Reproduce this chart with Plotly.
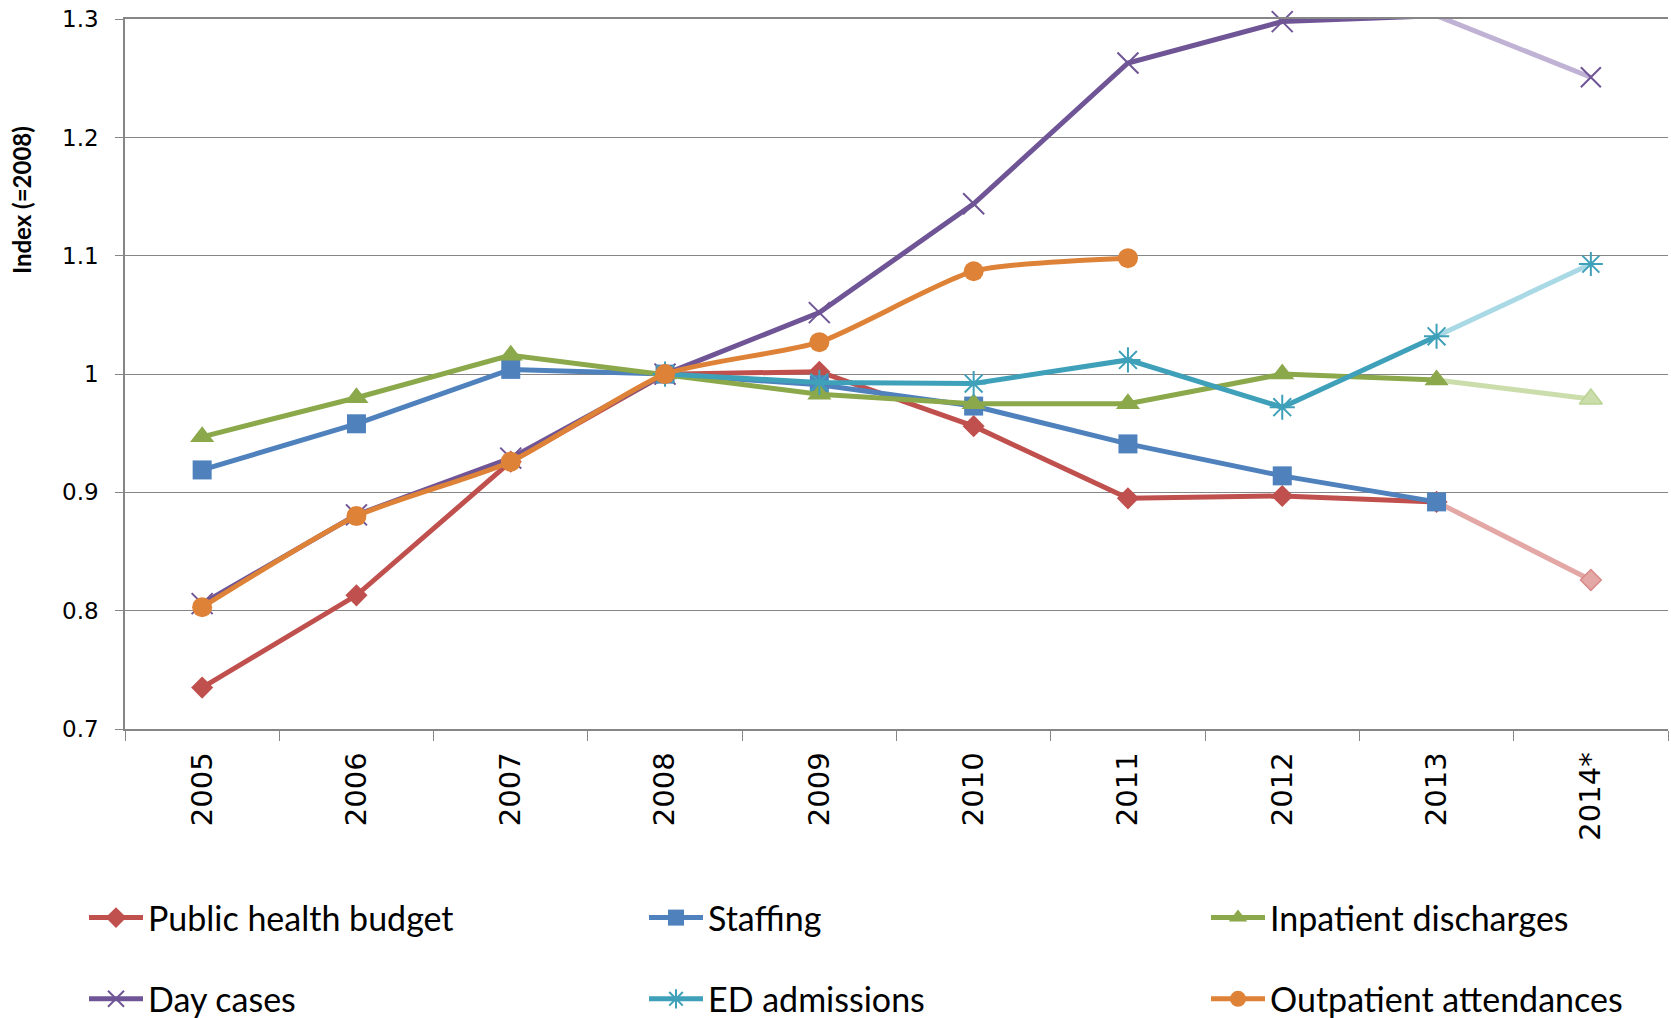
import plotly.graph_objects as go

# Data (index, 2008 = 1)
YEARS = ["2005", "2006", "2007", "2008", "2009", "2010", "2011", "2012", "2013", "2014*"]

BUDGET     = [0.735, 0.813, 0.926, 1.000, 1.002, 0.956, 0.895, 0.897, 0.892, None]
STAFFING   = [0.919, 0.958, 1.004, 1.000, 0.991, 0.973, 0.941, 0.914, 0.892, None]
INPATIENT  = [0.947, 0.980, 1.016, 1.000, 0.983, 0.975, 0.975, 1.000, 0.995, None]
DAY_CASES  = [0.806, 0.881, 0.929, 1.000, 1.052, 1.144, 1.263, 1.298, 1.303, None]
ED_ADM     = [None, None, None, 1.000, 0.993, 0.992, 1.012, 0.972, 1.032, None]
OUTPATIENT = [0.803, 0.880, 0.926, 1.000, 1.027, 1.087, 1.098, None, None, None]

# 2014 estimates (drawn faded, from 2013)
EST_YEARS      = ["2013", "2014*"]
BUDGET_EST     = [0.892, 0.826]
INPATIENT_EST  = [0.995, 0.979]
DAY_CASES_EST  = [1.303, 1.251]
ED_ADM_EST     = [1.032, 1.093]

Y_TICKS  = [0.7, 0.8, 0.9, 1.0, 1.1, 1.2, 1.3]
Y_LABELS = ["0.7", "0.8", "0.9", "1", "1.1", "1.2", "1.3"]

RED    = "#C0504D"
BLUE   = "#4F81BD"
GREEN  = "#8BA84B"
PURPLE = "#6F5596"
TEAL   = "#3FA0B9"
ORANGE = "#DE8238"

# full window; the page body margin is removed in the post script below
W, H = 1671, 1018
ML, MR, MT, MB = 125, 3, 19, 289
PW, PH = W - ML - MR, H - MT - MB

def px_x(x):  # page pixel -> paper x
    return (x - ML) / PW

def px_y(y):  # page pixel -> paper y
    return (H - MB - y) / PH

LEGEND_FONT = dict(family="Lato, Open Sans, sans-serif", size=34, color="black")
TICK_FONT_X = dict(family="DejaVu Sans, Verdana, sans-serif", size=29, color="black")
TICK_FONT_Y = dict(family="DejaVu Sans, Verdana, sans-serif", size=23, color="black")
LINE_W = 5

fig = go.Figure()

# faded estimate segments first (under the main lines)
est = [
    (BUDGET_EST, "#E3A7A6", dict(symbol="diamond", size=16, color="#E3A7A6", line=dict(color="#D98886", width=1.5))),
    (INPATIENT_EST, "#CADDAB", dict(symbol="triangle-up", size=20, color="#CADDAB", line=dict(color="#BBD394", width=1.5))),
    (DAY_CASES_EST, "#C0B2D5", dict(symbol="x-thin", size=20, color=PURPLE, line=dict(color=PURPLE, width=2))),
    (ED_ADM_EST, "#A9D9E5", dict(symbol="asterisk", size=20, color=TEAL, line=dict(color=TEAL, width=2))),
]
for vals, col, mk in est:
    fig.add_trace(go.Scatter(
        x=EST_YEARS, y=vals, mode="lines",
        line=dict(color=col, width=LINE_W), showlegend=False, hoverinfo="skip",
        cliponaxis=False,
    ))
    fig.add_trace(go.Scatter(
        x=EST_YEARS[1:], y=vals[1:], mode="markers",
        marker=mk, showlegend=False, hoverinfo="skip", cliponaxis=False,
    ))

series = [
    ("Public health budget", BUDGET, RED,
     dict(symbol="diamond", size=17, color=RED), "legend", "linear"),
    ("Staffing", STAFFING, BLUE,
     dict(symbol="square", size=19, color=BLUE), "legend2", "linear"),
    ("Inpatient discharges", INPATIENT, GREEN,
     dict(symbol="triangle-up", size=21, color=GREEN), "legend3", "linear"),
    ("Day cases", DAY_CASES, PURPLE,
     dict(symbol="x-thin", size=21, color=PURPLE, line=dict(color=PURPLE, width=2)), "legend", "linear"),
    ("ED admissions", ED_ADM, TEAL,
     dict(symbol="asterisk", size=21, color=TEAL, line=dict(color=TEAL, width=2)), "legend2", "linear"),
    ("Outpatient attendances", OUTPATIENT, ORANGE,
     dict(symbol="circle", size=20, color=ORANGE), "legend3", "spline"),
]
for name, vals, col, mk, lg, shape in series:
    fig.add_trace(go.Scatter(
        name=name, x=YEARS, y=vals, mode="lines+markers",
        line=dict(color=col, width=LINE_W, shape=shape, smoothing=0.6),
        marker=mk, legend=lg, legendgroup=name,
        connectgaps=False, cliponaxis=False,
    ))

legend_common = dict(
    orientation="v", font=LEGEND_FONT, bgcolor="rgba(0,0,0,0)",
    yanchor="top", y=px_y(889), xanchor="left", traceorder="grouped",
    tracegroupgap=34, itemwidth=54,
)

# Y-axis title placed like the original (above the plot's centre)
fig.add_annotation(
    xref="paper", yref="paper", x=px_x(21), y=px_y(200),
    xanchor="center", yanchor="middle", textangle=-90, showarrow=False,
    text="<b>Index (=2008)</b>",
    font=dict(family="Lato, Open Sans, sans-serif", size=24, color="black"),
)

fig.update_layout(
    width=W, height=H,
    paper_bgcolor="white", plot_bgcolor="white",
    margin=dict(l=ML, r=MR, t=MT, b=MB, autoexpand=False),
    showlegend=True,
    legend=dict(legend_common, x=px_x(84)),
    legend2=dict(legend_common, x=px_x(644)),
    legend3=dict(legend_common, x=px_x(1206)),
    xaxis=dict(
        type="category", categoryorder="array", categoryarray=YEARS,
        range=[-0.5, 9.5], tickson="boundaries", automargin=False,
        ticks="outside", ticklen=10, tickcolor="#868686", tickwidth=1.2,
        tickangle=-90, tickfont=TICK_FONT_X, ticklabelstandoff=10,
        ticklabeloverflow="allow",
        showgrid=False, showline=True, mirror=True,
        linecolor="#868686", linewidth=1.5, zeroline=False,
    ),
    yaxis=dict(
        range=[0.7, 1.3002], tickvals=Y_TICKS, ticktext=Y_LABELS, automargin=False,
        ticks="outside", ticklen=8, tickcolor="#868686", ticklabelstandoff=12,
        tickfont=TICK_FONT_Y, ticklabeloverflow="allow",
        showgrid=True, gridcolor="#868686", gridwidth=1.2,
        showline=True, linecolor="#868686", linewidth=1.5, zeroline=False,
    ),
)

fig.write_html(
    "out.html",
    config={"displayModeBar": False},
    post_script="document.body.style.margin = '0'; document.body.style.overflow = 'hidden';",
)
